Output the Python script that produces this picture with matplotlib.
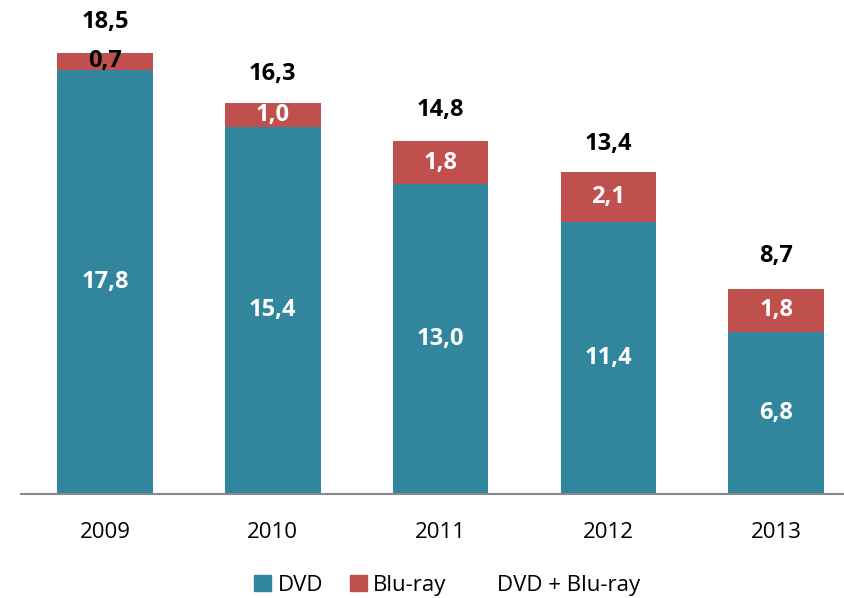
import matplotlib
matplotlib.use("Agg")
import matplotlib.pyplot as plt
from matplotlib.patches import Patch

years = ["2009", "2010", "2011", "2012", "2013"]
dvd = [17.8, 15.4, 13.0, 11.4, 6.8]
bluray = [0.7, 1.0, 1.8, 2.1, 1.8]
total = [18.5, 16.3, 14.8, 13.4, 8.7]

TEAL = "#31859c"
RED = "#c0504d"

plt.rcParams["font.family"] = ["Open Sans", "DejaVu Sans"]

fig = plt.figure(figsize=(8.45, 5.98), dpi=100)
ax = fig.add_axes([0.025, 0.174, 0.975, 0.826])

x = list(range(len(years)))
ax.bar(x, dvd, width=0.57, color=TEAL)
ax.bar(x, bluray, width=0.57, bottom=dvd, color=RED)

for i in x:
    ax.text(i, dvd[i] / 2, f"{dvd[i]:.1f}".replace(".", ","), ha="center", va="center",
            color="white", fontsize=17, fontweight="bold")
    blu_color = "black" if bluray[i] < 0.9 else "white"
    ax.text(i, dvd[i] + bluray[i] / 2, f"{bluray[i]:.1f}".replace(".", ","),
            ha="center", va="center", color=blu_color, fontsize=17, fontweight="bold")
    ax.text(i, total[i] + 1.3, f"{total[i]:.1f}".replace(".", ","), ha="center",
            va="center", color="black", fontsize=17, fontweight="bold")

ax.set_xlim(-0.5, 4.41)
ax.set_ylim(0, 20.72)
ax.set_yticks([])
ax.set_xticks(x)
ax.set_xticklabels(years, fontsize=16)
ax.tick_params(axis="x", length=0, pad=20)
for side in ["top", "right", "left"]:
    ax.spines[side].set_visible(False)
ax.spines["bottom"].set_color("#898989")
ax.spines["bottom"].set_linewidth(1.5)

handles = [Patch(color=TEAL, label="DVD"), Patch(color=RED, label="Blu-ray"),
           Patch(color="none", label="DVD + Blu-ray")]
fig.legend(handles=handles, loc="lower center", bbox_to_anchor=(0.529, -0.03), ncol=3,
           frameon=False, fontsize=16, handlelength=0.75, handleheight=0.75,
           handletextpad=0.3, columnspacing=1.2)

fig.savefig("out.png", dpi=100)
